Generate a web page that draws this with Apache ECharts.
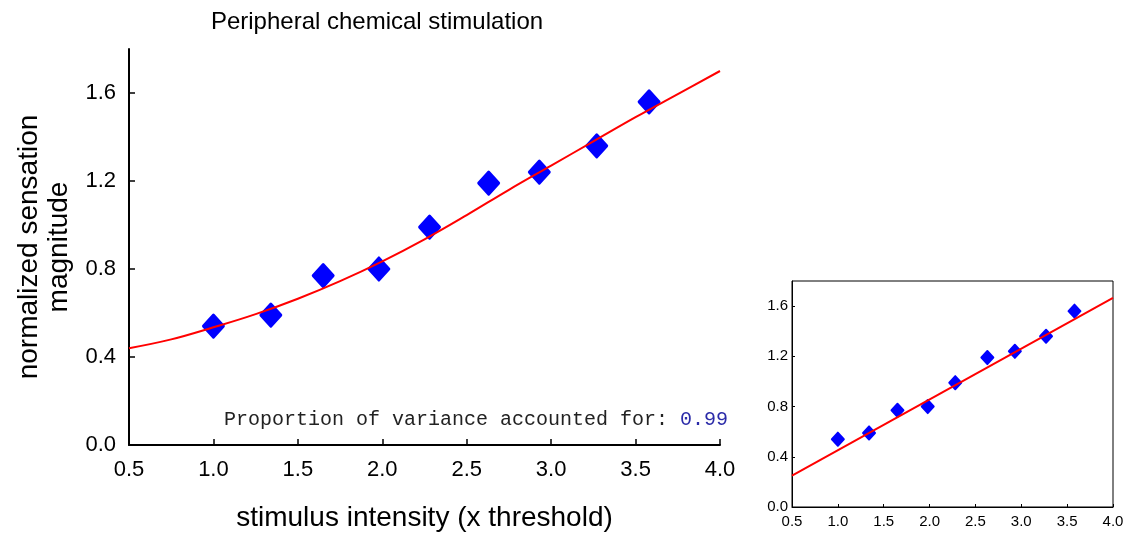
<!DOCTYPE html>
<html>
<head>
<meta charset="utf-8">
<script src="https://cdn.jsdelivr.net/npm/echarts@6/dist/echarts.min.js"></script>
<style>
html,body{margin:0;padding:0;background:#fff;}
#chart{width:1128px;height:537px;}
</style>
</head>
<body>
<div id="chart"></div>
<script>
// ---- data ----
const pointX = [1.0, 1.34, 1.65, 1.98, 2.28, 2.63, 2.93, 3.27, 3.58];
const pointY = [0.54, 0.59, 0.77, 0.80, 0.99, 1.19, 1.24, 1.36, 1.56];
const fitX = [0.5, 0.75, 1.0, 1.25, 1.5, 1.75, 2.0, 2.25, 2.5, 2.75, 3.0, 3.25, 3.5, 3.75, 4.0];
const fitY = [0.44, 0.48, 0.535, 0.595, 0.665, 0.745, 0.835, 0.935, 1.045, 1.16, 1.27, 1.38, 1.49, 1.595, 1.70];
const linX = [0.5, 4.0];
const linY = [0.25, 1.665];
const yTicks = [0, 0.4, 0.8, 1.2, 1.6];
const titleText = 'Peripheral chemical stimulation';
const xName = 'stimulus intensity (x threshold)';
const yName = 'normalized sensation\nmagnitude';
const noteText = 'Proportion of variance accounted for: ';
const noteValue = '0.99';

const pts = pointX.map((x, i) => [x, pointY[i]]);
const fit = fitX.map((x, i) => [x, fitY[i]]);
const lin = linX.map((x, i) => [x, linY[i]]);

const font = '"Liberation Sans", Arial, sans-serif';
const mono = '"Liberation Mono", "Courier New", monospace';
const fmt = v => v.toFixed(1);

const chart = echarts.init(document.getElementById('chart'), null, {renderer: 'canvas'});
chart.setOption({
  animation: false,
  backgroundColor: '#fff',
  title: [
    {text: titleText, left: 372, top: 5, textAlign: 'center',
     textStyle: {fontFamily: font, fontSize: 24, fontWeight: 'normal', color: '#000'}},
    {text: '{a|' + noteText + '}{b|' + noteValue + '}', right: 395, top: 405,
     textStyle: {fontWeight: 'normal', rich: {
       a: {fontFamily: mono, fontSize: 20, fontWeight: 'normal', color: '#222'},
       b: {fontFamily: mono, fontSize: 20, fontWeight: 'normal', color: '#2a2aa8'}
     }}}
  ],
  grid: [
    {left: 129, right: 408, top: 49, bottom: 87, show: false},
    {left: 792, right: 15, top: 281, bottom: 30, show: true, borderColor: '#000', borderWidth: 1, backgroundColor: 'transparent'}
  ],
  xAxis: [
    {gridIndex: 0, type: 'value', min: 0.5, max: 4.0, interval: 0.5,
     name: xName, nameLocation: 'middle', nameGap: 59,
     nameTextStyle: {fontFamily: font, fontSize: 28, color: '#000'},
     axisLine: {show: true, onZero: false, lineStyle: {color: '#000', width: 2}},
     axisTick: {show: true, inside: true, length: 6, lineStyle: {color: '#000', width: 1.5}},
     axisLabel: {fontFamily: font, fontSize: 22, color: '#000', margin: 14, formatter: fmt},
     splitLine: {show: false}},
    {gridIndex: 1, type: 'value', min: 0.5, max: 4.0, interval: 0.5,
     axisLine: {show: true, onZero: false, lineStyle: {color: '#000', width: 1}},
     axisTick: {show: true, inside: true, length: 3, lineStyle: {color: '#000'}},
     axisLabel: {fontFamily: font, fontSize: 15, color: '#000', margin: 7, formatter: fmt},
     splitLine: {show: false}}
  ],
  yAxis: [
    {gridIndex: 0, type: 'value', min: 0, max: 1.8,
     name: yName, nameLocation: 'middle', nameGap: 51, nameRotate: 90,
     nameTextStyle: {fontFamily: font, fontSize: 28, color: '#000', lineHeight: 30},
     axisLine: {show: true, onZero: false, lineStyle: {color: '#000', width: 2}},
     axisTick: {show: true, inside: true, length: 6, customValues: yTicks, lineStyle: {color: '#000', width: 1.5}},
     axisLabel: {fontFamily: font, fontSize: 22, color: '#000', margin: 13, customValues: yTicks, formatter: fmt},
     splitLine: {show: false}},
    {gridIndex: 1, type: 'value', min: 0, max: 1.8,
     axisLine: {show: true, onZero: false, lineStyle: {color: '#000', width: 1}},
     axisTick: {show: true, inside: true, length: 3, customValues: yTicks, lineStyle: {color: '#000'}},
     axisLabel: {fontFamily: font, fontSize: 15, color: '#000', margin: 4, customValues: yTicks, formatter: fmt},
     splitLine: {show: false}}
  ],
  series: [
    {type: 'line', xAxisIndex: 0, yAxisIndex: 0, data: fit, smooth: 0.4, showSymbol: false, symbol: 'none',
     lineStyle: {color: '#ff0000', width: 2}, z: 3},
    {type: 'scatter', xAxisIndex: 0, yAxisIndex: 0, data: pts, symbol: 'diamond', symbolSize: [20, 22],
     itemStyle: {color: '#0000ff', opacity: 1, borderColor: '#0000ff', borderWidth: 3, borderJoin: 'round'}, z: 2},
    {type: 'line', xAxisIndex: 1, yAxisIndex: 1, data: lin, showSymbol: false, symbol: 'none',
     lineStyle: {color: '#ff0000', width: 2}, z: 3},
    {type: 'scatter', xAxisIndex: 1, yAxisIndex: 1, data: pts, symbol: 'diamond', symbolSize: [12, 13],
     itemStyle: {color: '#0000ff', opacity: 1, borderColor: '#0000ff', borderWidth: 2, borderJoin: 'round'}, z: 2}
  ]
});
</script>
</body>
</html>
